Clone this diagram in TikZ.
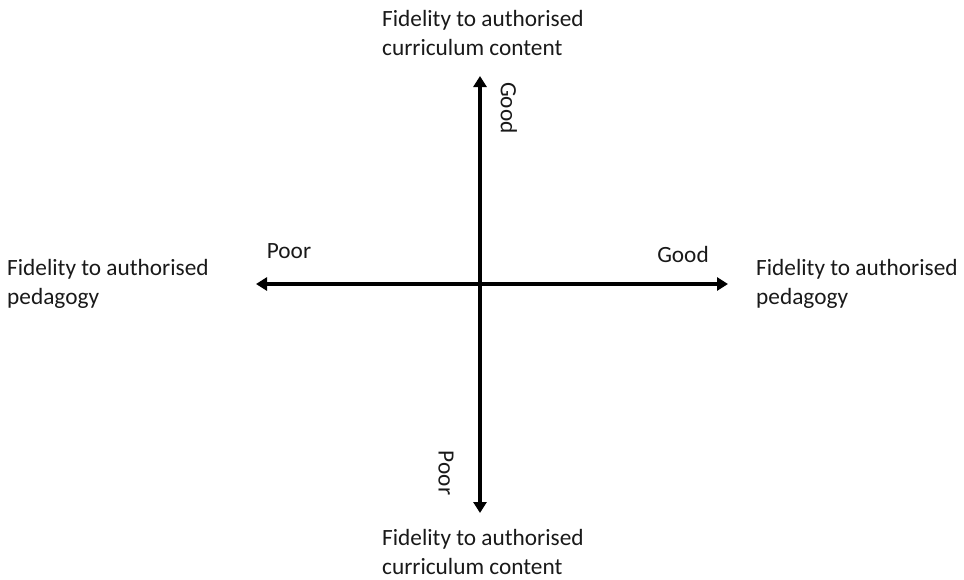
\documentclass[tikz,border=0pt]{standalone}
\usepackage{fontspec}
\setmainfont{Carlito}
\usetikzlibrary{arrows.meta}
\begin{document}
\begin{tikzpicture}[x=1pt,y=-1pt,
  axis/.style={line width=3.5pt,{Triangle[width=13pt,length=11pt]}-{Triangle[width=13pt,length=11pt]}},
  tip/.style={line width=3.5pt,-{Triangle[width=13pt,length=11pt]}},
  label/.style={inner sep=0pt,font=\fontsize{23.3}{29.5}\selectfont,text=black!90},
  title/.style={label,align=left,anchor=west}]
\useasboundingbox (0,0) rectangle (964,579);
% axis ends and centre
\coordinate (L) at (256,284);
\coordinate (R) at (728,284);
\coordinate (T) at (480,76);
\coordinate (B) at (480,513);
\coordinate (C) at (480,284);
\draw[axis] (L) -- (R);
\draw[tip] (C) -- (T);
\draw[tip] (C) -- (B);
% axis titles
\node[title] (top) at (382,33) {Fidelity to authorised\\curriculum content};
\node[title] (bottom) at (382,552) {Fidelity to authorised\\curriculum content};
\node[title] (left) at (7,284) {Fidelity to authorised\\pedagogy};
\node[title] (right) at (756,284) {Fidelity to authorised\\pedagogy};
% pole labels
\node[label] (poorx) at (289,251) {Poor};
\node[label] (goodx) at (683,254) {Good};
\node[label,rotate=-90] (goody) at (509,108) {Good};
\node[label,rotate=-90] (poory) at (446,473) {Poor};
\end{tikzpicture}
\end{document}
